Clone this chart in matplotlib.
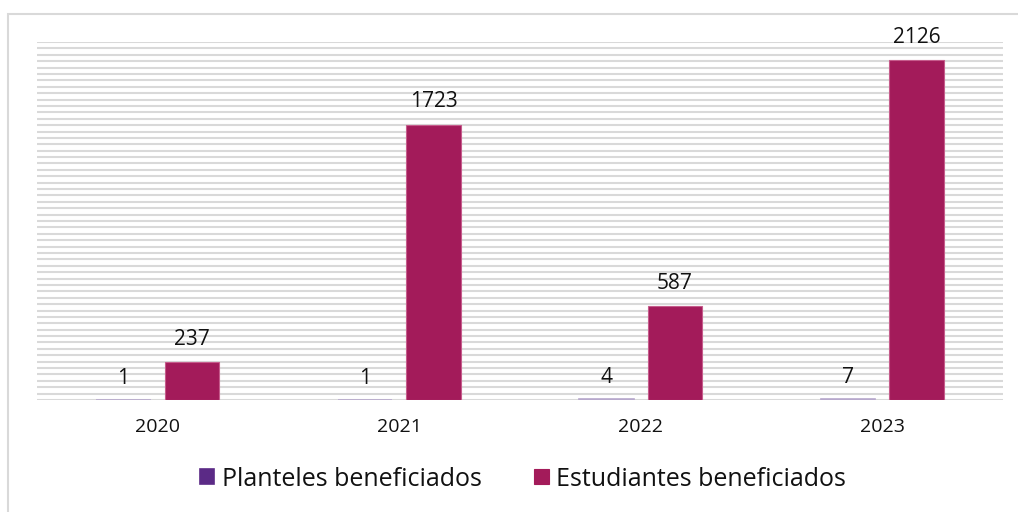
import matplotlib
matplotlib.use("Agg")
import matplotlib.pyplot as plt
import numpy as np
from matplotlib.patches import Rectangle

plt.rcParams['font.family'] = ['Open Sans', 'DejaVu Sans']

years = ["2020", "2021", "2022", "2023"]
planteles = [1, 1, 4, 7]
estudiantes = [237, 1723, 587, 2126]
series_names = ["Planteles beneficiados", "Estudiantes beneficiados"]

c_plant = "#5B2A86"
c_plant_edge = "#B7A8CC"
c_est = "#A31B5A"
c_est_edge = "#C65C8C"
grid_c = "#D9D9D9"
txt_c = "#111111"

W, H = 1018, 512
fig = plt.figure(figsize=(W / 100, H / 100), dpi=100)

# outer chart border
fig.add_artist(Rectangle((7.5 / W, -0.1), 1.2, 1 - 13.5 / H + 0.1,
                         transform=fig.transFigure, fill=False,
                         edgecolor=grid_c, linewidth=1.5))

left, right, top, bottom = 37, 1003, 42, 400
ax = fig.add_axes([left / W, 1 - bottom / H, (right - left) / W, (bottom - top) / H])

x = np.arange(len(years))
bw = 0.224
off = 0.142

b1 = ax.bar(x - off, planteles, bw, color=c_plant, edgecolor=c_plant_edge,
            linewidth=1.2, label=series_names[0], zorder=3)
b2 = ax.bar(x + off, estudiantes, bw, color=c_est, edgecolor=c_est_edge,
            linewidth=0.8, label=series_names[1], zorder=3)

for rect, v in zip(b1, planteles):
    ax.annotate(str(v), (rect.get_x() + rect.get_width() / 2, v),
                xytext=(0, 8), textcoords="offset points",
                ha="center", va="bottom", fontsize=15, color=txt_c)
for rect, v in zip(b2, estudiantes):
    ax.annotate(str(v), (rect.get_x() + rect.get_width() / 2, v),
                xytext=(0, 9), textcoords="offset points",
                ha="center", va="bottom", fontsize=15, color=txt_c)

ymax = 2240
ax.set_ylim(0, ymax)
ax.set_xlim(-0.5, len(years) - 0.5)
for yv in np.arange(0, ymax + 1, 40):
    ax.axhline(yv, color=grid_c, linewidth=1.5, zorder=1)

ax.set_yticks([])
ax.set_xticks(x)
ax.set_xticklabels(years, fontsize=14, color=txt_c)
ax.tick_params(axis="x", length=0, pad=13)
for s in ax.spines.values():
    s.set_visible(False)

leg = fig.legend(handles=[b1, b2], labels=series_names, loc="center",
                 bbox_to_anchor=(523 / W, 1 - 479 / H), ncol=2, frameon=False,
                 fontsize=18, handlelength=0.58, handleheight=0.58,
                 handletextpad=0.3, columnspacing=2.1)
for h, c in zip(leg.legend_handles, [c_plant, c_est]):
    h.set_facecolor(c)
    h.set_edgecolor(c)
for t in leg.get_texts():
    t.set_color(txt_c)

fig.savefig("out.png", dpi=100)
